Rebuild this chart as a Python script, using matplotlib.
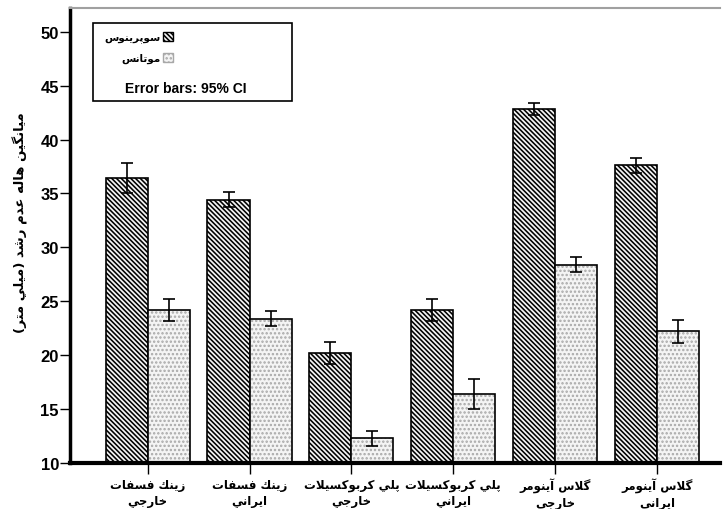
import matplotlib
matplotlib.use("Agg")
import matplotlib.pyplot as plt
import numpy as np
from matplotlib.patches import Patch, Rectangle

# values
cats = ["زينك فسفات\nخارجي", "زينك فسفات\nايراني",
        "پلي كربوكسيلات\nخارجي", "پلي كربوكسيلات\nايراني",
        "گلاس آينومر\nخارجي", "گلاس آينومر\nايراني"]
sup = [36.4, 34.4, 20.2, 24.2, 42.8, 37.6]
sup_err = [1.4, 0.7, 1.0, 1.0, 0.55, 0.7]
mut = [24.2, 23.4, 12.3, 16.4, 28.4, 22.2]
mut_err = [1.05, 0.7, 0.7, 1.4, 0.7, 1.1]
sup_name = "سوپرينوس"
mut_name = "موتانس"
ylab = "ميانگين هاله عدم رشد (ميلي متر)"
yticks = [10, 15, 20, 25, 30, 35, 40, 45, 50]

# ---- small arabic shaper (matplotlib does no shaping itself)
forms = {
    'ا': (0xFE8D, 0xFE8E, None, None), 'آ': (0xFE81, 0xFE82, None, None),
    'ب': (0xFE8F, 0xFE90, 0xFE91, 0xFE92), 'پ': (0xFB56, 0xFB57, 0xFB58, 0xFB59),
    'ت': (0xFE95, 0xFE96, 0xFE97, 0xFE98), 'ج': (0xFE9D, 0xFE9E, 0xFE9F, 0xFEA0),
    'خ': (0xFEA5, 0xFEA6, 0xFEA7, 0xFEA8), 'د': (0xFEA9, 0xFEAA, None, None),
    'ر': (0xFEAD, 0xFEAE, None, None), 'ز': (0xFEAF, 0xFEB0, None, None),
    'س': (0xFEB1, 0xFEB2, 0xFEB3, 0xFEB4), 'ش': (0xFEB5, 0xFEB6, 0xFEB7, 0xFEB8),
    'ع': (0xFEC9, 0xFECA, 0xFECB, 0xFECC), 'ف': (0xFED1, 0xFED2, 0xFED3, 0xFED4),
    'ك': (0xFED9, 0xFEDA, 0xFEDB, 0xFEDC), 'گ': (0xFB92, 0xFB93, 0xFB94, 0xFB95),
    'ل': (0xFEDD, 0xFEDE, 0xFEDF, 0xFEE0), 'م': (0xFEE1, 0xFEE2, 0xFEE3, 0xFEE4),
    'ن': (0xFEE5, 0xFEE6, 0xFEE7, 0xFEE8), 'ه': (0xFEE9, 0xFEEA, 0xFEEB, 0xFEEC),
    'و': (0xFEED, 0xFEEE, None, None), 'ي': (0xFEF1, 0xFEF2, 0xFEF3, 0xFEF4),
}
lamalef = {'ا': (0xFEFB, 0xFEFC), 'آ': (0xFEF5, 0xFEF6)}
mirror = {'(': ')', ')': '('}


def dual(c):
    return c in forms and forms[c][2] is not None


def shape_line(s):
    out = []
    i = 0
    while i < len(s):
        c = s[i]
        prev = s[i - 1] if i > 0 else ''
        joins_prev = dual(prev) and c in forms
        if c == 'ل' and i + 1 < len(s) and s[i + 1] in lamalef:
            iso, fin = lamalef[s[i + 1]]
            out.append(chr(fin if joins_prev else iso))
            i += 2
            continue
        if c not in forms:
            out.append(mirror.get(c, c))
            i += 1
            continue
        nxt = s[i + 1] if i + 1 < len(s) else ''
        joins_next = dual(c) and nxt in forms
        f = forms[c]
        if joins_prev and joins_next:
            g = f[3]
        elif joins_prev:
            g = f[1]
        elif joins_next:
            g = f[2]
        else:
            g = f[0]
        out.append(chr(g))
        i += 1
    return ''.join(out[::-1])


def fa(s):
    return '\n'.join(shape_line(l) for l in s.split('\n'))


plt.rcParams['font.family'] = ['Liberation Sans', 'DejaVu Sans']
plt.rcParams['hatch.linewidth'] = 1.15

fig = plt.figure(figsize=(7.23, 5.10), dpi=100)
ax = fig.add_axes([70 / 723, 1 - 464 / 510, 650 / 723, 455 / 510])

x = np.arange(len(cats))
w = 0.413
stripes = '\\' * 7
dots = '....'

ax.bar(x - w / 2, np.array(sup) - 10, w, bottom=10, color='#f4f4f4',
       edgecolor='black', hatch=stripes, linewidth=1.2, zorder=2)
ax.bar(x + w / 2, np.array(mut) - 10, w, bottom=10, color='#f4f4f4',
       edgecolor='#a8a8a8', hatch=dots, linewidth=0, zorder=2)
ax.bar(x + w / 2, np.array(mut) - 10, w, bottom=10, fill=False,
       edgecolor='black', linewidth=1.2, zorder=3)

ax.errorbar(x - w / 2, sup, yerr=sup_err, fmt='none', ecolor='black',
            elinewidth=1.2, capsize=4.5, capthick=1.2, zorder=4)
ax.errorbar(x + w / 2, mut, yerr=mut_err, fmt='none', ecolor='black',
            elinewidth=1.2, capsize=4.5, capthick=1.2, zorder=4)

ax.set_xlim(-0.763, 5.62)
ax.set_ylim(10, 52.2)
ax.set_yticks(yticks)
ax.set_yticklabels([str(t) for t in yticks], fontsize=12, fontweight='bold')
ax.set_xticks(x)
ax.set_xticklabels([fa(c) for c in cats], fontsize=8.5, family='DejaVu Sans',
                   fontweight='bold', linespacing=1.25)
ax.tick_params(axis='y', length=7, width=1, pad=1)
ax.tick_params(axis='x', length=8, width=1, pad=3)

ax.set_ylabel(fa(ylab), fontsize=9.5, fontweight='bold', family='DejaVu Sans')
ax.yaxis.set_label_coords(-0.064, 0.53)

ax.spines['left'].set_linewidth(2.5)
ax.spines['bottom'].set_linewidth(3)
ax.spines['right'].set_visible(False)
ax.spines['top'].set_color('#a0a0a0')
ax.spines['top'].set_linewidth(1.5)

# legend box
ax.add_patch(Rectangle((23 / 650, 362 / 455), 199 / 650, 78 / 455,
                       transform=ax.transAxes, fill=False, edgecolor='black',
                       linewidth=1.2, zorder=5))
handles = [Patch(facecolor='#f4f4f4', edgecolor='black', hatch=stripes),
           Patch(facecolor='#f4f4f4', edgecolor='#a8a8a8', hatch=dots)]
leg = ax.legend(handles, [fa(sup_name), fa(mut_name)], loc='upper right',
                bbox_to_anchor=(103 / 650, 431 / 455), frameon=False,
                markerfirst=False, handlelength=1.0,
                handleheight=1.0, handletextpad=0.15, labelspacing=0.95,
                borderpad=0, borderaxespad=0,
                prop={'family': 'DejaVu Sans', 'size': 7.5, 'weight': 'bold'})
ax.text(116 / 650, 375 / 455, "Error bars: 95% CI", transform=ax.transAxes,
        ha='center', va='center', fontsize=10, fontweight='bold')

fig.savefig("out.png", dpi=100)
